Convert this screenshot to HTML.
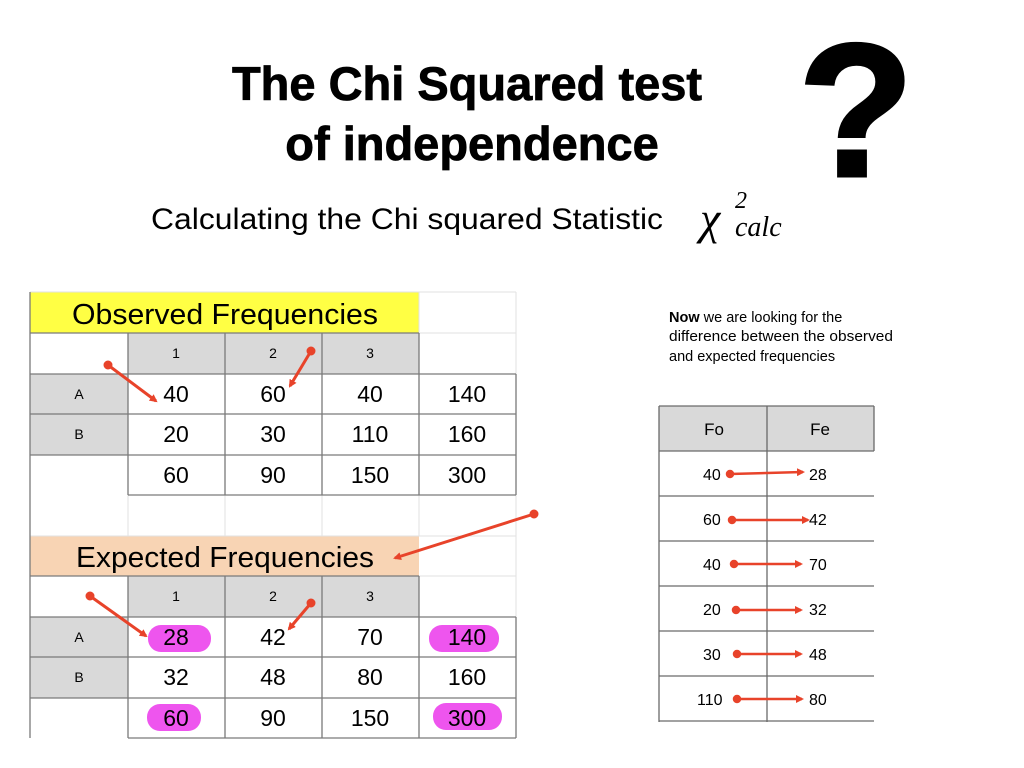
<!DOCTYPE html>
<html><head><meta charset="utf-8"><style>
html,body{margin:0;padding:0;background:#fff;width:1024px;height:768px;overflow:hidden}
svg{display:block}
</style></head><body>
<svg width="1024" height="768" xmlns="http://www.w3.org/2000/svg" font-family="Liberation Sans, sans-serif">
<defs><marker id="ah" markerWidth="8" markerHeight="8" refX="6" refY="4" orient="auto" markerUnits="userSpaceOnUse"><path d="M0,0 L8,4 L0,8 z" fill="#e8432a"/></marker></defs>
<text x="467" y="100" text-anchor="middle" font-size="47" font-weight="bold" stroke="#000" stroke-width="0.8">The Chi Squared test</text>
<text x="472" y="160" text-anchor="middle" font-size="47" font-weight="bold" stroke="#000" stroke-width="0.8">of independence</text>
<text x="151" y="229" font-size="30" textLength="512" lengthAdjust="spacingAndGlyphs">Calculating the Chi squared Statistic</text>
<text x="700" y="234" font-family="Liberation Serif, serif" font-style="italic" font-size="46">χ</text>
<text x="735" y="208" font-family="Liberation Serif, serif" font-style="italic" font-size="24">2</text>
<text x="735" y="236" font-family="Liberation Serif, serif" font-style="italic" font-size="28">calc</text>
<text x="856" y="176" text-anchor="middle" font-size="190" font-weight="bold" stroke="#000" stroke-width="3">?</text>

<rect x="30" y="292" width="389" height="41" fill="#ffff44"/>
<rect x="128" y="333" width="291" height="41" fill="#d9d9d9"/>
<rect x="30" y="374" width="98" height="81" fill="#d9d9d9"/>
<rect x="30" y="536" width="389" height="40" fill="#f8d4b4"/>
<rect x="128" y="576" width="291" height="41" fill="#d9d9d9"/>
<rect x="30" y="617" width="98" height="81" fill="#d9d9d9"/>
<g stroke="#e2e2e2" stroke-width="1">
<line x1="30" y1="292" x2="516" y2="292"/><line x1="516" y1="292" x2="516" y2="738"/>
<line x1="30" y1="292" x2="30" y2="738"/>
<line x1="128" y1="495" x2="128" y2="536"/><line x1="225" y1="495" x2="225" y2="536"/><line x1="322" y1="495" x2="322" y2="536"/><line x1="419" y1="292" x2="419" y2="536"/>
<line x1="30" y1="536" x2="516" y2="536"/><line x1="419" y1="576" x2="516" y2="576"/><line x1="419" y1="333" x2="516" y2="333"/>
</g>
<g stroke="#7a7a7a" stroke-width="1.3" fill="none">
<path d="M30,333H419M128,333V495M225,333V495M322,333V495M419,333V374"/>
<path d="M30,374H516M30,414H516M30,455H516M128,495H516M516,374V495M419,374V495"/>
<path d="M30,576H419M128,576V738M225,576V738M322,576V738M419,576V617"/>
<path d="M30,617H516M30,657H516M30,698H516M128,738H516M516,617V738M419,617V738"/>
<path d="M30,292V738"/>
</g>
<g>
<text x="225" y="324" text-anchor="middle" font-size="29" textLength="306" lengthAdjust="spacingAndGlyphs">Observed Frequencies</text>
<text x="225" y="567" text-anchor="middle" font-size="29" textLength="298" lengthAdjust="spacingAndGlyphs">Expected Frequencies</text>
</g>
<g font-size="14" text-anchor="middle">
<text x="176" y="358">1</text><text x="273" y="358">2</text><text x="370" y="358">3</text>
<text x="79" y="399">A</text><text x="79" y="439">B</text>
<text x="176" y="601">1</text><text x="273" y="601">2</text><text x="370" y="601">3</text>
<text x="79" y="642">A</text><text x="79" y="682">B</text>
</g>
<g fill="#ee55ee">
<rect x="148" y="625" width="63" height="27" rx="13"/>
<rect x="429" y="625" width="70" height="27" rx="13"/>
<rect x="147" y="704" width="54" height="27" rx="13"/>
<rect x="433" y="703" width="69" height="27" rx="13"/>
</g>
<g font-size="23" text-anchor="middle">
<text x="176" y="402">40</text><text x="273" y="402">60</text><text x="370" y="402">40</text><text x="467" y="402">140</text>
<text x="176" y="442">20</text><text x="273" y="442">30</text><text x="370" y="442">110</text><text x="467" y="442">160</text>
<text x="176" y="483">60</text><text x="273" y="483">90</text><text x="370" y="483">150</text><text x="467" y="483">300</text>
<text x="176" y="645">28</text><text x="273" y="645">42</text><text x="370" y="645">70</text><text x="467" y="645">140</text>
<text x="176" y="685">32</text><text x="273" y="685">48</text><text x="370" y="685">80</text><text x="467" y="685">160</text>
<text x="176" y="726">60</text><text x="273" y="726">90</text><text x="370" y="726">150</text><text x="467" y="726">300</text>
</g>
<g stroke="#e8432a" stroke-width="3" fill="#e8432a">
<circle cx="108" cy="365" r="3"/><line x1="108" y1="365" x2="156" y2="401" marker-end="url(#ah)"/>
<circle cx="311" cy="351" r="3"/><line x1="311" y1="351" x2="290" y2="386" marker-end="url(#ah)"/>
<circle cx="534" cy="514" r="3"/><line x1="534" y1="514" x2="395" y2="558" marker-end="url(#ah)"/>
<circle cx="90" cy="596" r="3"/><line x1="90" y1="596" x2="146" y2="636" marker-end="url(#ah)"/>
<circle cx="311" cy="603" r="3"/><line x1="311" y1="603" x2="289" y2="629" marker-end="url(#ah)"/>
</g>

<g font-size="14.5">
<text x="669" y="322"><tspan font-weight="bold">Now</tspan> we are looking for the</text>
<text x="669" y="341" textLength="224" lengthAdjust="spacingAndGlyphs">difference between the observed</text>
<text x="669" y="361">and expected frequencies</text>
</g>
<rect x="659" y="406" width="215" height="45" fill="#d9d9d9"/>
<g stroke="#6a6a6a" stroke-width="1.3" fill="none">
<path d="M659,406V722M767,406V722M874,406V451"/>
<path d="M659,406H874M659,451H874M659,496H874M659,541H874M659,586H874M659,631H874M659,676H874M659,721H874"/>
</g>
<g font-size="17" text-anchor="middle">
<text x="714" y="435">Fo</text><text x="820" y="435">Fe</text>
</g>
<g font-size="16">
<text x="703" y="480">40</text><text x="809" y="480">28</text>
<text x="703" y="525">60</text><text x="809" y="525">42</text>
<text x="703" y="570">40</text><text x="809" y="570">70</text>
<text x="703" y="615">20</text><text x="809" y="615">32</text>
<text x="703" y="660">30</text><text x="809" y="660">48</text>
<text x="697" y="705">110</text><text x="809" y="705">80</text>
</g>
<g stroke="#e8432a" stroke-width="2.5" fill="#e8432a">
<circle cx="730" cy="474" r="3"/><line x1="730" y1="474" x2="803" y2="472" marker-end="url(#ah)"/>
<circle cx="732" cy="520" r="3"/><line x1="732" y1="520" x2="808" y2="520" marker-end="url(#ah)"/>
<circle cx="734" cy="564" r="3"/><line x1="734" y1="564" x2="801" y2="564" marker-end="url(#ah)"/>
<circle cx="736" cy="610" r="3"/><line x1="736" y1="610" x2="801" y2="610" marker-end="url(#ah)"/>
<circle cx="737" cy="654" r="3"/><line x1="737" y1="654" x2="801" y2="654" marker-end="url(#ah)"/>
<circle cx="737" cy="699" r="3"/><line x1="737" y1="699" x2="802" y2="699" marker-end="url(#ah)"/>
</g>
</svg>
</body></html>
